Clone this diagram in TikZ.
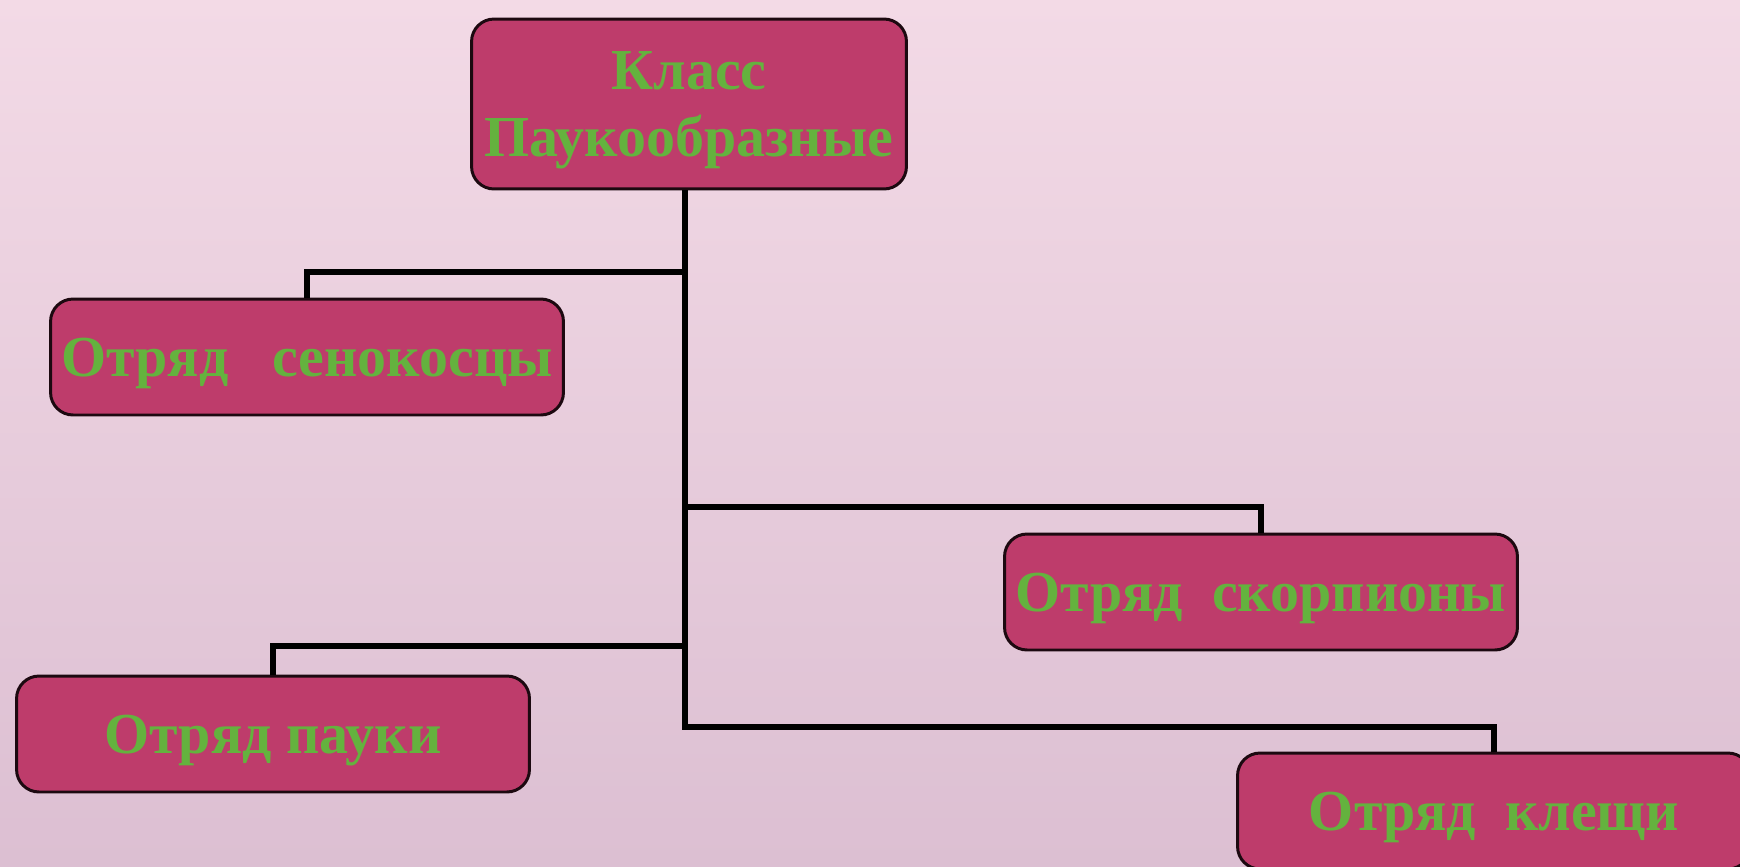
\documentclass[tikz,border=0pt]{standalone}
\usepackage{fontspec}
\setmainfont{Liberation Serif}
\usepackage{xcolor}
\usepackage{tikz}
\usetikzlibrary{positioning}

\definecolor{boxpink}{HTML}{BE3C6B}
\definecolor{txtgreen}{HTML}{64B23E}
\definecolor{bgtop}{HTML}{F3DAE6}
\definecolor{bgbot}{HTML}{DCBFD2}

\begin{document}
\begin{tikzpicture}[
    x=0.02cm, y=-0.02cm,
    taxon/.style={draw=black!85!boxpink, line width=1.7pt, fill=boxpink, rounded corners=0.45cm, align=center, text=txtgreen, font=\fontsize{33}{38}\selectfont\bfseries, inner sep=0pt, minimum width=10.26cm},
    order/.style={taxon, text depth=0pt, minimum height=2.32cm},
    link/.style={line width=2.9pt, black}
]
% background
\fill[top color=bgtop, bottom color=bgbot] (0,0) rectangle (1740,866);
\useasboundingbox (0,0) rectangle (1740,866);

\node[taxon, minimum width=8.7cm, minimum height=3.4cm] (cls) at (689,104) {Класс\\\smash{Паукообразные}};
\node[order] (seno) at (307,357) {Отряд\ \ \ сенокосцы};
\node[order] (scorp) at (1261,592) {Отряд\ \ скорпионы};
\node[order] (pauki) at (273,734) {Отряд пауки};
\node[order] (klesh) at (1494,811) {Отряд\ \ клещи};

\coordinate (j1) at (685,272);
\coordinate (j2) at (685,507);
\coordinate (j3) at (685,646);
\coordinate (j4) at (685,727);

\draw[link] (cls.south -| j1) -- (j4) -| (klesh.north);
\draw[link] (j1) -| (seno.north);
\draw[link] (j2) -| (scorp.north);
\draw[link] (j3) -| (pauki.north);
\end{tikzpicture}
\end{document}
